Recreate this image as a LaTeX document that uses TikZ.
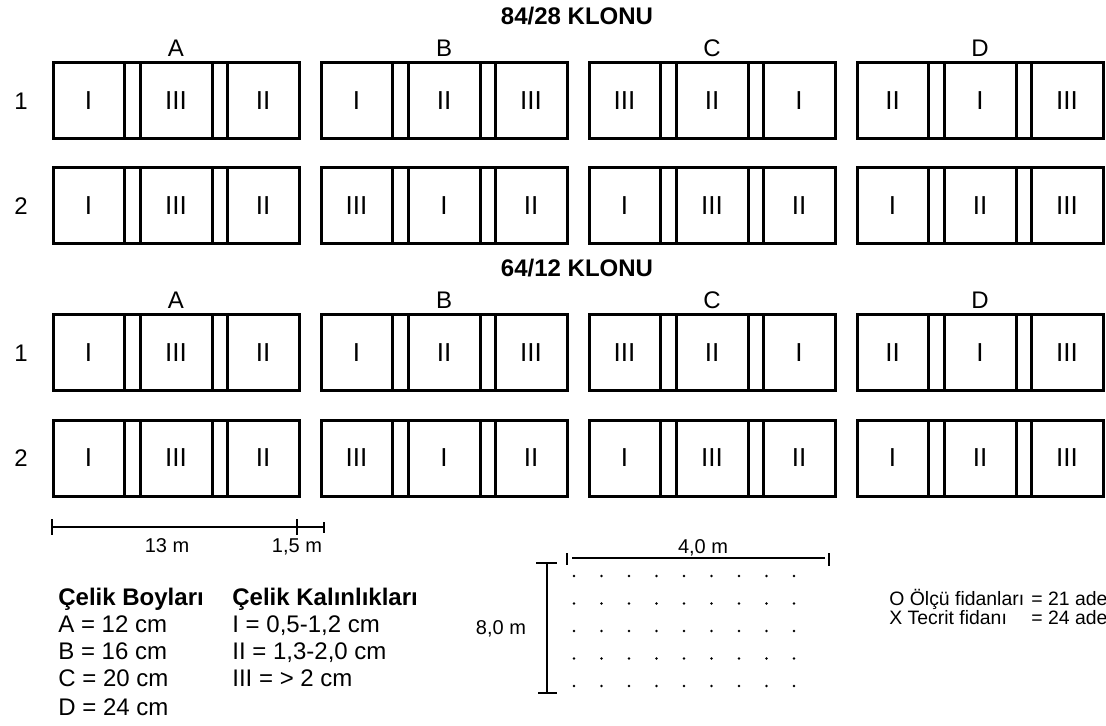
\documentclass[tikz,border=0pt]{standalone}
\usepackage{fontspec}
\setmainfont{Liberation Sans}
\usetikzlibrary{positioning}

\tikzset{
  plotline/.style={line width=1.5pt},
  barline/.style={line width=1.4pt},
  dimline/.style={line width=0.9pt},
  lbl/.style={font=\fontsize{12}{14}\selectfont},
  roman/.style={font=\fontsize{13}{15}\selectfont},
  small/.style={font=\fontsize{10}{12}\selectfont,anchor=base},
  note/.style={font=\fontsize{9.7}{11}\selectfont,anchor=base west,inner sep=0pt},
  ttl/.style={font=\fontsize{12}{14}\selectfont\bfseries},
  legend/.style={font=\fontsize{12}{14}\selectfont,anchor=base west,inner sep=0pt},
}

\begin{document}
\begin{tikzpicture}[x=0.5pt,y=-0.5pt]
  \useasboundingbox (0,0) rectangle (1106,726);
  \node[ttl] (klon1) at (577,16) {84/28 KLONU};
  \node[ttl] (klon2) at (577,268) {64/12 KLONU};
  \foreach \g/\gy in {1/0,2/252} {
    \foreach \bl/\bx in {A/53,B/321,C/589,D/857} {\node[lbl] (hd\g\bl) at (\bx+123,\gy+48) {\bl};}
    \node[lbl] (row\g1) at (21,\gy+101) {1};
    \node[lbl] (row\g2) at (21,\gy+206) {2};
    \foreach \r/\ty/\bl/\bx/\ka/\kb/\kc in {1/63/A/53/I/III/II,1/63/B/321/I/II/III,1/63/C/589/III/II/I,1/63/D/857/II/I/III,
                                            2/168/A/53/I/III/II,2/168/B/321/III/I/II,2/168/C/589/I/III/II,2/168/D/857/I/II/III} {
      \draw[plotline] (\bx,\gy+\ty) rectangle ++(246,76);
      \foreach \dx in {71,87,159,174} {\draw[plotline] (\bx+\dx,\gy+\ty) -- ++(0,76);}
      \node[roman] (p\g\r\bl1) at (\bx+35.5,\gy+\ty+38) {\ka};
      \node[roman] (p\g\r\bl2) at (\bx+123,\gy+\ty+38) {\kb};
      \node[roman] (p\g\r\bl3) at (\bx+210,\gy+\ty+38) {\kc};
    }
  }
  \coordinate (s0) at (52,527); \coordinate (s1) at (297,527); \coordinate (s2) at (324,527);
  \draw[barline] (s0) -- (s2);
  \draw[barline] (s0) ++(0,-8) -- ++(0,16);
  \draw[barline] (s1) ++(0,-8) -- ++(0,16);
  \draw[barline] (s2) ++(0,-5) -- ++(0,11);
  \node[small] (m13) at (167,552) {13 m};
  \node[small] (m15) at (297,552) {1,5 m};
  \node[legend,font=\fontsize{12}{14}\selectfont\bfseries] (boy) at (58,605.5) {Çelik Boyları};
  \node[legend,font=\fontsize{12}{14}\selectfont\bfseries] (kal) at (232,605.5) {Çelik Kalınlıkları};
  \foreach \i/\yy/\t in {1/632.5/{A = 12 cm},2/659.5/{B = 16 cm},3/686.5/{C = 20 cm},4/715.5/{D = 24 cm}} {\node[legend] (boy\i) at (58,\yy) {\t};}
  \foreach \i/\yy/\t in {1/632.5/{I = 0,5-1,2 cm},2/659.5/{II = 1,3-2,0 cm},3/686.5/{III = > 2 cm}} {\node[legend] (kal\i) at (232,\yy) {\t};}
  \coordinate (v0) at (547,563); \coordinate (v1) at (547,693);
  \draw[dimline] (v0) -- (v1);
  \draw[dimline] (536,563) -- (557,563);
  \draw[dimline] (538,693) -- (557,693);
  \node[small,anchor=base east] (dy) at (533,634) {8,0 m};
  \coordinate (h0) at (572,558); \coordinate (h1) at (825,558);
  \draw[dimline] (h0) -- (h1);
  \draw[dimline] (567,553) -- (567,565);
  \draw[dimline] (829,553) -- (829,566);
  \node[small] (dx) at (703,553) {4,0 m};
  \foreach \i in {0,...,8} {\foreach \j in {0,...,4} {\fill (574+27.5*\i,576+27.5*\j) circle (1.3);}}
  \node[note] (olc) at (889,605) {O Ölçü fidanları};
  \node[note] (olcn) at (1031,605) {= 21 ade};
  \node[note] (tec) at (889,624.5) {X Tecrit fidanı};
  \node[note] (tecn) at (1031,624.5) {= 24 ade};
\end{tikzpicture}
\end{document}
